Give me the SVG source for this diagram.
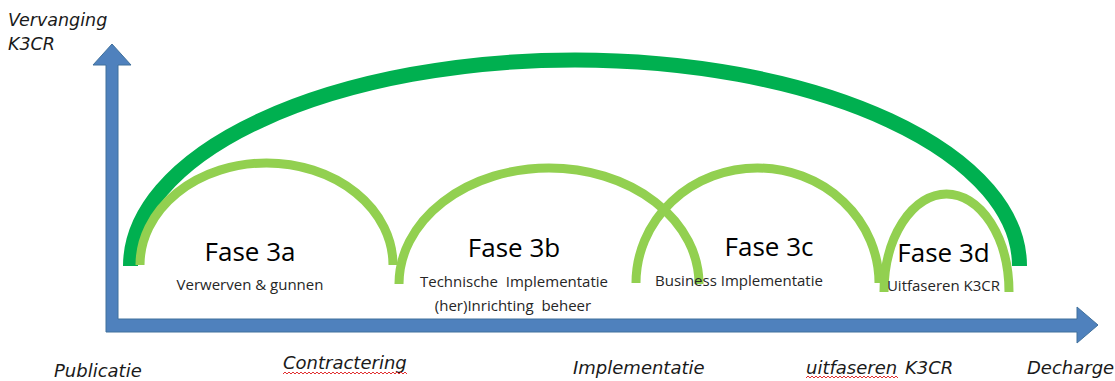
<svg xmlns="http://www.w3.org/2000/svg" width="1115" height="381" viewBox="0 0 1115 381">
<style>
.bg{fill:#ffffff}
.axis{fill:#4F81BD;stroke:#41719C;stroke-width:1}
.dark{fill:none;stroke:#00B050;stroke-width:15}
.light{fill:none;stroke:#92D050;stroke-width:9}
.ax{font-family:"DejaVu Sans",Verdana,sans-serif;font-style:italic;font-size:18px;fill:#1a1a1a}
.fase{font-family:"Open Sans","Noto Sans",sans-serif;font-size:26px;fill:#000000;text-anchor:middle}
.sub{font-family:"Open Sans","Noto Sans",sans-serif;font-size:15px;fill:#262626;text-anchor:middle}
.squig{fill:none;stroke:#e03030;stroke-width:1}
</style>
<rect class="bg" x="0" y="0" width="1115" height="381"/>
<g id="connectors">
  <path id="axes" class="axis" d="M106 332 L106 65 L93 65 L112 44 L131 65 L118 65 L118 319 L1077 319 L1077 307 L1098 325 L1077 343 L1077 332 Z"/>
</g>
<g id="vervanging">
  <path class="dark" d="M130.5 266 A444.5 206 0 0 1 1019.5 266"/>
  <text class="ax" x="8" y="26" style="font-size:17.5px">Vervanging</text>
  <text class="ax" x="8" y="50" style="font-size:17.5px">K3CR</text>
</g>
<g id="fase3a">
  <path class="light" d="M140 265 A126.5 102 0 0 1 393 265"/>
  <text class="fase" x="250" y="261">Fase 3a</text>
  <text class="sub" x="250" y="290">Verwerven &amp; gunnen</text>
</g>
<g id="fase3b">
  <path class="light" d="M399 284 A150 116 0 0 1 699 284"/>
  <text class="fase" x="514" y="257">Fase 3b</text>
  <text class="sub" x="514" y="287" xml:space="preserve">Technische  Implementatie</text>
  <text class="sub" x="513" y="311" xml:space="preserve">(her)Inrichting  beheer</text>
</g>
<g id="fase3c">
  <path class="light" d="M636 283 A121.5 115 0 0 1 879 283"/>
  <text class="fase" x="769" y="256">Fase 3c</text>
  <text class="sub" x="739" y="286">Business Implementatie</text>
</g>
<g id="fase3d">
  <path class="light" d="M884 292 A62.5 98 0 0 1 1009 292"/>
  <text class="fase" x="943.5" y="262">Fase 3d</text>
  <text class="sub" x="943.5" y="291">Uitfaseren K3CR</text>
</g>
<g id="axis-labels">
  <text class="ax" x="54" y="377">Publicatie</text>
  <text class="ax" x="283" y="369">Contractering</text>
  <path class="squig" d="M283 374 l2 -2 l2 2 l2 -2 l2 2 l2 -2 l2 2 l2 -2 l2 2 l2 -2 l2 2 l2 -2 l2 2 l2 -2 l2 2 l2 -2 l2 2 l2 -2 l2 2 l2 -2 l2 2 l2 -2 l2 2 l2 -2 l2 2 l2 -2 l2 2 l2 -2 l2 2 l2 -2 l2 2 l2 -2 l2 2 l2 -2 l2 2 l2 -2 l2 2 l2 -2 l2 2 l2 -2 l2 2 l2 -2 l2 2 l2 -2 l2 2 l2 -2 l2 2 l2 -2 l2 2 l2 -2 l2 2 l2 -2 l2 2 l2 -2 l2 2 l2 -2 l2 2 l2 -2 l2 2 l2 -2 l2 2 l2 -2 l2 2"/>
  <text class="ax" x="573" y="374">Implementatie</text>
  <text class="ax" x="806" y="374">uitfaseren</text>
  <path class="squig" d="M806 378 l2 -2 l2 2 l2 -2 l2 2 l2 -2 l2 2 l2 -2 l2 2 l2 -2 l2 2 l2 -2 l2 2 l2 -2 l2 2 l2 -2 l2 2 l2 -2 l2 2 l2 -2 l2 2 l2 -2 l2 2 l2 -2 l2 2 l2 -2 l2 2 l2 -2 l2 2 l2 -2 l2 2 l2 -2 l2 2 l2 -2 l2 2 l2 -2 l2 2 l2 -2 l2 2 l2 -2 l2 2 l2 -2 l2 2 l2 -2 l2 2 l2 -2 l2 2"/>
  <text class="ax" x="905" y="374">K3CR</text>
  <text class="ax" x="1027" y="374">Decharge</text>
</g>
</svg>
